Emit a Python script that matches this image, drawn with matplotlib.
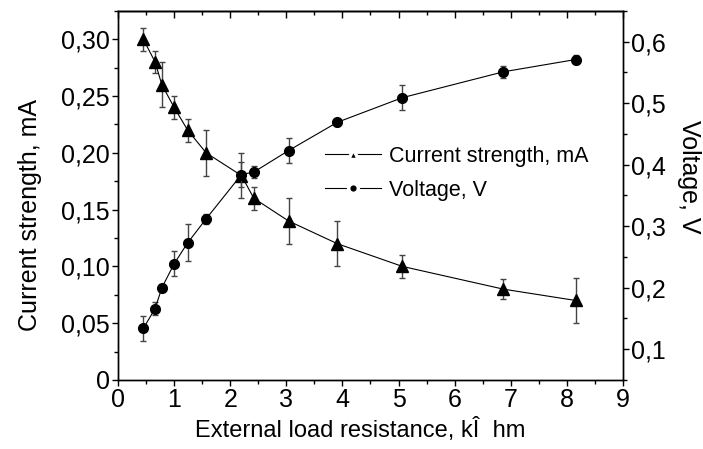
import numpy as np
import matplotlib
matplotlib.use("Agg")
import matplotlib.pyplot as plt
from matplotlib.ticker import MultipleLocator, FuncFormatter
from matplotlib.lines import Line2D

plt.rcParams['font.family'] = ['Liberation Sans', 'DejaVu Sans']

# Data
resistance = [0.45, 0.66, 0.78, 1.0, 1.24, 1.57, 2.2, 2.42, 3.04, 3.91, 5.07, 6.87, 8.16]
current = [0.30, 0.28, 0.26, 0.24, 0.22, 0.20, 0.18, 0.16, 0.14, 0.12, 0.10, 0.08, 0.07]
current_err = [0.01, 0.01, 0.02, 0.01, 0.01, 0.02, 0.02, 0.01, 0.02, 0.02, 0.01, 0.009, 0.02]
voltage = [0.134, 0.166, 0.200, 0.239, 0.273, 0.312, 0.384, 0.388, 0.423, 0.469, 0.509, 0.551, 0.571]
voltage_err = [0.02, 0.01, 0.004, 0.02, 0.03, 0.008, 0.02, 0.01, 0.02, 0.006, 0.02, 0.01, 0.008]

comma = FuncFormatter(lambda v, p: ('%g' % v).replace('.', ','))
comma2 = FuncFormatter(lambda v, p: ('0' if v == 0 else ('%.2f' % v).replace('.', ',')))

fig = plt.figure(figsize=(7.03, 4.49), dpi=100)
ax = fig.add_axes([0.168, 0.1537, 0.718, 0.822])
ax2 = ax.twinx()

ax.errorbar(resistance, current, yerr=current_err, color='black', ecolor='#444444',
            marker='^', markersize=8, linewidth=0.8, elinewidth=1, capsize=2.3, capthick=1)
ax2.errorbar(resistance, voltage, yerr=voltage_err, color='black', ecolor='#444444',
             marker='o', markersize=7, linewidth=0.8, elinewidth=1, capsize=2.3, capthick=1)

ax.set_xlim(0, 9)
ax.set_ylim(0, 0.325)
ax2.set_ylim(0.05, 0.65)

ax.xaxis.set_major_locator(MultipleLocator(1))
ax.xaxis.set_minor_locator(MultipleLocator(0.5))
ax.yaxis.set_major_locator(MultipleLocator(0.05))
ax.yaxis.set_minor_locator(MultipleLocator(0.025))
ax.yaxis.set_major_formatter(comma2)
ax2.yaxis.set_major_locator(MultipleLocator(0.1))
ax2.yaxis.set_minor_locator(MultipleLocator(0.05))
ax2.yaxis.set_major_formatter(comma)

fs = 18
for a, axis in [(ax, 'x'), (ax, 'y'), (ax2, 'y')]:
    a.tick_params(axis=axis, which='both', direction='out', labelsize=fs, pad=2)
    a.tick_params(axis=axis, which='major', length=4, width=1)
    a.tick_params(axis=axis, which='minor', length=3, width=1)
ax.tick_params(axis='y', which='both', right=False)

# top axis: inward ticks, no labels
top = ax.secondary_xaxis('top')
top.xaxis.set_major_locator(MultipleLocator(1))
top.xaxis.set_minor_locator(MultipleLocator(0.5))
top.tick_params(which='both', direction='in', labeltop=False)
top.tick_params(which='major', length=5, width=1)
top.tick_params(which='minor', length=3, width=1)

ax.set_xlabel('External load resistance, kÎ  hm', fontsize=17)
ax.xaxis.set_label_coords(0.479, -0.103)
ax.set_ylabel('Current strength, mA', fontsize=fs, va='center')
ax.yaxis.set_label_coords(-0.174, 0.447)
ax2.set_ylabel('Voltage, V', fontsize=fs, rotation=270, va='center')
ax2.yaxis.set_label_coords(1.131, 0.552)

for sp in list(ax.spines.values()) + list(ax2.spines.values()) + list(top.spines.values()):
    sp.set_linewidth(1)

h1 = Line2D([], [], color='black', linewidth=0.8, marker='^', markersize=7,
            markerfacecolor='black', markeredgecolor='white', markeredgewidth=2.5)
h2 = Line2D([], [], color='black', linewidth=0.8, marker='o', markersize=7,
            markerfacecolor='black', markeredgecolor='white', markeredgewidth=2.5)
fig.legend([h1, h2], ['Current strength, mA', 'Voltage, V'], loc='upper left',
           bbox_to_anchor=(325 / 703, 1 - 146 / 449), frameon=False, fontsize=15.5,
           handlelength=2.6, handletextpad=0.35, labelspacing=0.6, borderpad=0,
           borderaxespad=0)

fig.savefig('out.png', dpi=100)
